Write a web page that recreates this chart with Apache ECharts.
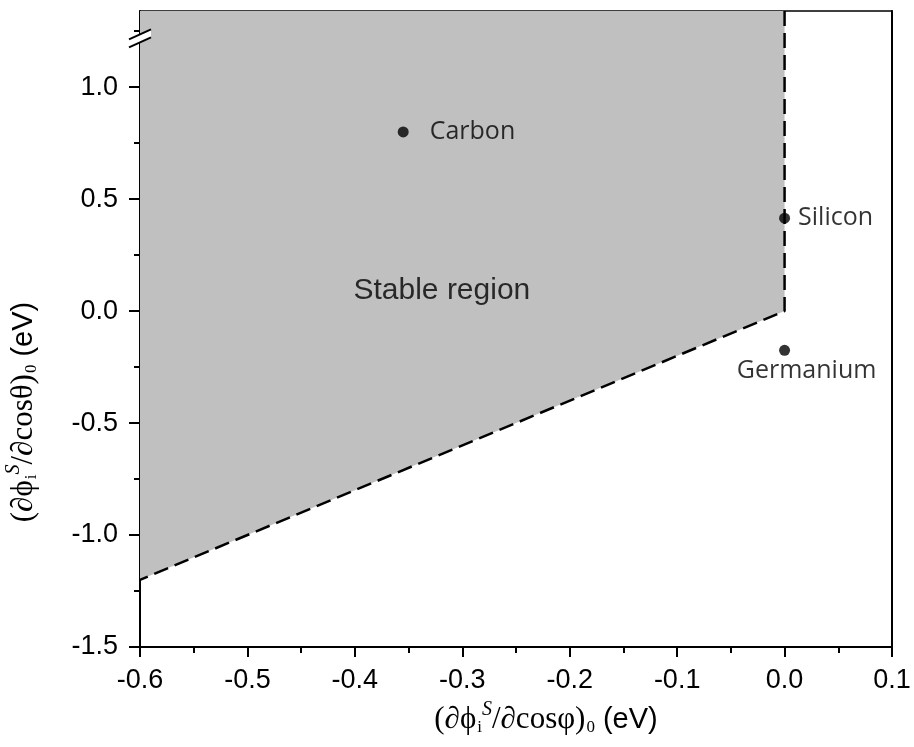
<!DOCTYPE html>
<html>
<head>
<meta charset="utf-8">
<script src="https://cdn.jsdelivr.net/npm/echarts@6/dist/echarts.min.js"></script>
<style>
html,body{margin:0;padding:0;background:#fff;}
#chart{width:914px;height:747px;}
</style>
</head>
<body>
<div id="chart"></div>
<script>
// ---- data ----
const xMin = -0.6, xMax = 0.1, xStep = 0.1;
const yMin = -1.5, yMax = 1.34, yStep = 0.5;
const yTickValues = [-1.5, -1.0, -0.5, 0.0, 0.5, 1.0];
const yBreakValue = 1.2;
const pointNames = ['Carbon', 'Silicon', 'Germanium'];
const pointX = [-0.355, 0.0, 0.0];
const pointY = [0.80, 0.415, -0.175];
const regionX = [-0.6, 0.0, 0.0, -0.6];
const regionY = [1.34, 1.34, 0.0, -1.2];
const boundaryX = [0.0, 0.0, -0.6];
const boundaryY = [1.34, 0.0, -1.2];
const regionLabel = 'Stable region';
const regionLabelX = [-0.319];
const regionLabelY = [0.089];

const chart = echarts.init(document.getElementById('chart'));

const labelCfg = {
  Carbon: {position: 'right', distance: 21},
  Silicon: {position: 'right', distance: 8},
  Germanium: {position: 'bottom', distance: 3, offset: [22, 0]}
};

const pointData = pointNames.map((n, i) => ({
  name: n, value: [pointX[i], pointY[i]],
  label: Object.assign({show: true, formatter: '{b}'}, labelCfg[n])
}));

const serif = '"Liberation Serif","Times New Roman",serif';
const sans = '"Liberation Sans",Arial,sans-serif';

function titleRich(theta) {
  return {
    text: '{m|(∂ϕ}{sub|i}{sup|S}{m|/∂cos' + theta + ')}{sub|0}{e| (eV)}',
    rich: {
      m: {fontFamily: serif, fontSize: 31, fill: '#000', lineHeight: 40},
      sup: {fontFamily: serif, fontSize: 20, fontStyle: 'italic', fill: '#000', padding: [0, 0, 20, 0], lineHeight: 40},
      sub: {fontFamily: serif, fontSize: 17, fill: '#000', padding: [16, 0, 0, 1], lineHeight: 40},
      e: {fontFamily: sans, fontSize: 29, fill: '#000', lineHeight: 40}
    }
  };
}

const option = {
  backgroundColor: '#fff',
  animation: false,
  grid: {left: 140, right: 22, top: 11, bottom: 100},
  xAxis: [{
    type: 'value', min: xMin, max: xMax, interval: xStep,
    axisLine: {show: true, onZero: false, lineStyle: {color: '#000', width: 2}},
    axisTick: {show: true, inside: false, length: 10, lineStyle: {color: '#000', width: 2}},
    minorTick: {show: true, splitNumber: 2, length: 6, lineStyle: {color: '#000', width: 2}},
    axisLabel: {color: '#000', fontFamily: sans, fontSize: 27, margin: 20,
      formatter: v => v.toFixed(1)},
    splitLine: {show: false}
  }, {
    type: 'value', position: 'top', min: xMin, max: xMax,
    axisLine: {show: true, onZero: false, lineStyle: {color: '#000', width: 1.5}},
    axisTick: {show: false}, axisLabel: {show: false}, splitLine: {show: false}
  }],
  yAxis: [{
    type: 'value', min: yMin, max: yMax, interval: yStep,
    axisLine: {show: true, onZero: false, lineStyle: {color: '#000', width: 2}},
    axisTick: {show: true, length: 11, customValues: yTickValues, lineStyle: {color: '#000', width: 2}},
    minorTick: {show: true, splitNumber: 2, length: 6, lineStyle: {color: '#000', width: 2}},
    axisLabel: {color: '#000', fontFamily: sans, fontSize: 27, margin: 22,
      customValues: yTickValues, formatter: v => v.toFixed(1)},
    splitLine: {show: false}
  }, {
    type: 'value', position: 'right', min: yMin, max: yMax,
    axisLine: {show: true, onZero: false, lineStyle: {color: '#000', width: 2}},
    axisTick: {show: false}, axisLabel: {show: false}, splitLine: {show: false}
  }],
  series: [{
    type: 'custom',
    z: 1,
    data: [0],
    renderItem: function (params, api) {
      const pts = regionX.map((x, i) => api.coord([x, regionY[i]]));
      return {type: 'polygon', shape: {points: pts}, style: {fill: '#c0c0c0', stroke: 'none'}};
    },
    silent: true
  }, {
    type: 'line',
    z: 3,
    data: boundaryX.map((x, i) => [x, boundaryY[i]]),
    symbol: 'none',
    lineStyle: {color: '#000', width: 2.5, type: [15, 7]},
    silent: true
  }, {
    type: 'scatter',
    z: 5,
    symbol: 'circle',
    symbolSize: 11,
    itemStyle: {color: '#000'},
    label: {color: '#000', fontFamily: '"Open Sans","Noto Sans",sans-serif', fontSize: 25},
    data: pointData
  }, {
    type: 'scatter',
    z: 4,
    symbolSize: 0,
    data: regionLabelX.map((x, i) => ({name: regionLabel, value: [x, regionLabelY[i]]})),
    label: {show: true, position: 'inside', formatter: '{b}', color: '#000', fontFamily: sans, fontSize: 30}
  }]
};
chart.setOption(option);

// axis titles and y-axis break mark (decoration)
const bp = chart.convertToPixel({xAxisIndex: 0, yAxisIndex: 0}, [xMin, yBreakValue]);
const bx = bp[0], by = bp[1];
const xt = titleRich('φ');
const yt = titleRich('θ');
chart.setOption({
  graphic: [
    {type: 'text', x: 546, y: 720, style: Object.assign({align: 'center', verticalAlign: 'middle'}, xt)},
    {type: 'text', x: 24, y: 412, rotation: Math.PI / 2, style: Object.assign({align: 'center', verticalAlign: 'middle'}, yt)},
    {type: 'polygon', shape: {points: [[bx - 11, by + 5], [bx + 11, by - 5], [bx + 11, by - 13], [bx - 11, by - 3]]},
      style: {fill: '#fff'}, z: 100},
    {type: 'line', shape: {x1: bx - 11, y1: by + 5, x2: bx + 11, y2: by - 5}, style: {stroke: '#000', lineWidth: 2}, z: 101},
    {type: 'line', shape: {x1: bx - 11, y1: by - 3, x2: bx + 11, y2: by - 13}, style: {stroke: '#000', lineWidth: 2}, z: 101}
  ]
});
</script>
</body>
</html>
